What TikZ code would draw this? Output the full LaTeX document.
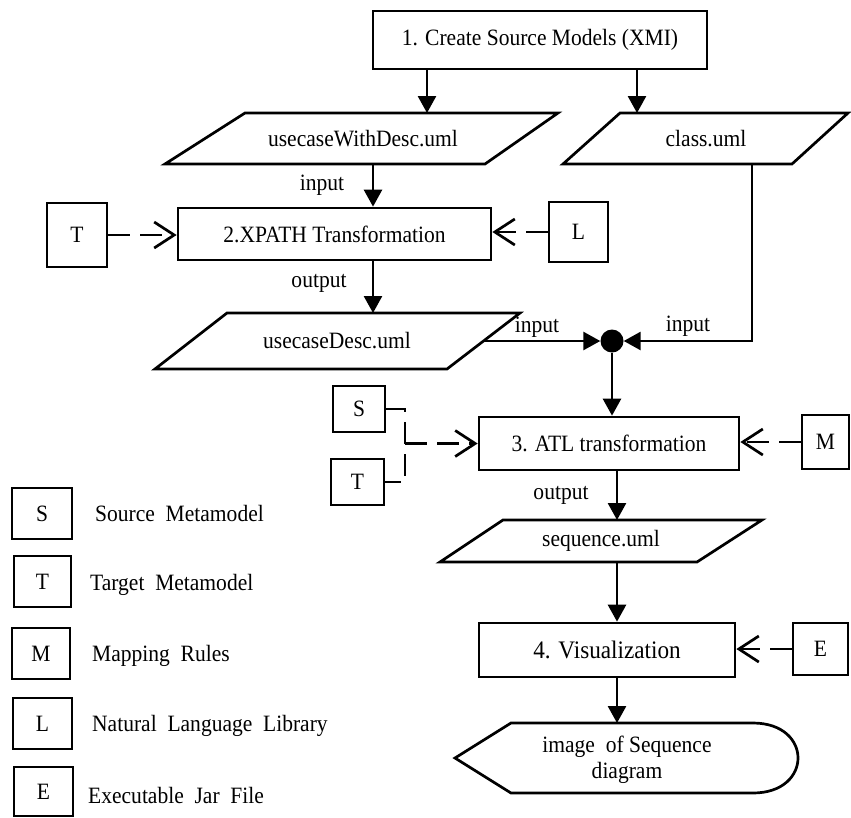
\documentclass[tikz,border=0pt]{standalone}
\usepackage{fontspec}
\setmainfont{Liberation Serif}[FakeStretch=0.92]
\usetikzlibrary{arrows.meta}
\begin{document}
\begin{tikzpicture}[x=1pt,y=-1pt,
  every node/.style={font=\fontsize{23.4}{27}\selectfont, inner sep=0pt},
  proc/.style={draw, line width=2.7pt, rectangle},
  key/.style={draw, line width=2.7pt, rectangle},
  iobox/.style={draw, line width=2.7pt, line join=miter},
  flow/.style={line width=2.7pt, -{Triangle[length=17pt,width=18pt]}},
  feed/.style={line width=2.7pt, dash pattern=on 22pt off 10pt,
               -{Straight Barb[length=20pt,width=26pt]}},
  feedline/.style={line width=2.7pt, dash pattern=on 22pt off 10pt}]
\useasboundingbox (0,0) rectangle (851,817);

% ---- step 1 and its two source models
\node[proc, minimum width=334pt, minimum height=58pt] (create) at (540,40)
  {1. Create Source Models (XMI)};

\draw[iobox] (245,113) -- (558,113) -- (485,164) -- (165,164) -- cycle;
\node (ucwd) at (363,139) {usecaseWithDesc.uml};
\coordinate (ucwdTop) at (427,113);
\coordinate (ucwdBot) at (373,164);

\draw[iobox] (620,113) -- (848,113) -- (792,164) -- (563,164) -- cycle;
\node (cls) at (706,139) {class.uml};
\coordinate (clsTop) at (637,113);
\coordinate (clsBot) at (752,164);

\draw[flow] (create.south -| ucwdTop) -- (ucwdTop);
\draw[flow] (create.south -| clsTop) -- (clsTop);

% ---- step 2
\node[proc, minimum width=313pt, minimum height=52pt] (xpath) at (334.5,234)
  {2.XPATH Transformation};
\node[key, minimum width=60pt, minimum height=64pt] (t1) at (77,235) {T};
\node[key, minimum width=59pt, minimum height=60pt] (l1) at (578.5,232) {L};

\node (in1) at (322,185) {input};
\draw[flow] (ucwdBot) -- (xpath.north -| ucwdBot);
\draw[feed] (t1.east) -- (t1.east -| xpath.west);
\draw[feed] (l1.west) -- (l1.west -| xpath.east);

\node (out1) at (319,283) {output};
\coordinate (ucdTop) at (373,313);
\draw[flow] (xpath.south -| ucdTop) -- (ucdTop);

\draw[iobox] (227,313) -- (520,313) -- (447,369) -- (155,369) -- cycle;
\node (ucd) at (337,341) {usecaseDesc.uml};
\coordinate (ucdOut) at (485,341);

% ---- merge point
\node[circle, fill, minimum size=23pt] (join) at (612,341) {};
\node (in2) at (537,327) {input};
\node (in3) at (688,326) {input};
\draw[flow] (ucdOut) -- (join.west);
\draw[flow] (clsBot) -- (clsBot |- join) -- (join.east);

% ---- step 3
\node[proc, minimum width=260pt, minimum height=53pt] (atl) at (609,443.5)
  {3. ATL transformation};
\draw[flow] (join.south) -- (join.south |- atl.north);

\node[key, minimum width=52pt, minimum height=46pt] (s2) at (359,409) {S};
\node[key, minimum width=53pt, minimum height=46pt] (t2) at (357.5,482) {T};
\coordinate (fork) at (405,443.5);
\draw[feedline] (s2.east) -- (s2.east -| fork) -- (t2.east -| fork) -- (t2.east);
\draw[feed] (fork) -- (fork -| atl.west);

\node[key, minimum width=47pt, minimum height=54pt] (m1) at (825.5,442) {M};
\draw[feed] (m1.west) -- (m1.west -| atl.east);

\node (out2) at (561,495) {output};
\coordinate (seqTop) at (617,520);
\draw[flow] (atl.south -| seqTop) -- (seqTop);

\draw[iobox] (503,520) -- (762,520) -- (697,562) -- (440,562) -- cycle;
\node (seq) at (601,541) {sequence.uml};
\coordinate (seqBot) at (617,562);

% ---- step 4
\node[proc, minimum width=256pt, minimum height=54pt,
      font=\fontsize{25.2}{29}\selectfont] (vis) at (607,650) {4. Visualization};
\draw[flow] (seqBot) -- (seqBot |- vis.north);

\node[key, minimum width=55pt, minimum height=52pt] (e1) at (820.5,649) {E};
\draw[feed] (e1.west) -- (e1.west -| vis.east);

% display output
\draw[iobox] (455,758) -- (511,723) -- (753,723)
  .. controls (813,723) and (813,793) .. (753,793) -- (511,793) -- cycle;
\node[align=center, font=\fontsize{23.4}{26}\selectfont] (img) at (627,760)
  {image\ \ of Sequence\\diagram};
\coordinate (dispTop) at (617,723);
\draw[flow] (vis.south -| dispTop) -- (dispTop);

% ---- legend
\node[key, minimum width=60pt, minimum height=51pt] (ks) at (42,513.5) {S};
\node[anchor=base west] (ksl) at (95,521) {Source\ \ Metamodel};
\node[key, minimum width=57pt, minimum height=51pt] (kt) at (42.5,581.5) {T};
\node[anchor=base west] (ktl) at (90,590) {Target\ \ Metamodel};
\node[key, minimum width=58pt, minimum height=51pt] (km) at (41,653.5) {M};
\node[anchor=base west] (kml) at (92,661) {Mapping\ \ Rules};
\node[key, minimum width=59pt, minimum height=51pt] (kl) at (42.5,723.5) {L};
\node[anchor=base west] (kll) at (92,731) {Natural\ \ Language\ \ Library};
\node[key, minimum width=59pt, minimum height=49pt] (ke) at (43.5,791.5) {E};
\node[anchor=base west] (kel) at (88,803) {Executable\ \ Jar\ \ File};
\end{tikzpicture}
\end{document}
